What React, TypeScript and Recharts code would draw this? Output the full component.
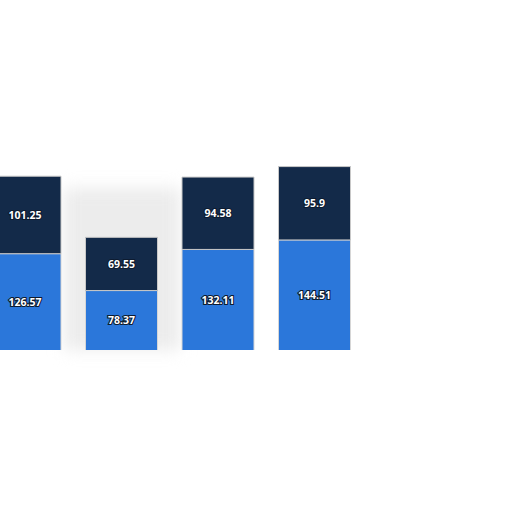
import React from 'react'
import { BarChart, Bar, XAxis, YAxis, LabelList } from 'recharts'

// categories and stacked series values
const categories = ['A', 'B', 'C', 'D']
const lowerValues = [126.57, 78.37, 132.11, 144.51]
const upperValues = [101.25, 69.55, 94.58, 95.9]

const data = categories.map((name, i) => ({
  name,
  lower: lowerValues[i],
  upper: upperValues[i],
}))

const labelStyle = {
  fill: '#ffffff',
  stroke: '#0d1b30',
  strokeWidth: 2.2,
  paintOrder: 'stroke' as const,
  fontSize: 10.5,
  fontWeight: 700,
  fontFamily: 'Open Sans, sans-serif',
}

export default function App() {
  return (
    <div style={{ position: 'absolute', left: 0, top: 0, width: 512, height: 512, overflow: 'hidden', background: '#fff' }}>
      {/* soft gray haze behind the second bar */}
      <div
        style={{
          position: 'absolute',
          left: 64,
          top: 188,
          width: 116,
          height: 162,
          background: '#ececec',
          filter: 'blur(8px)',
        }}
      />
      <div style={{ position: 'absolute', left: -22.75, top: 120.5 }}>
        <BarChart
          width={386}
          height={229.5}
          data={data}
          margin={{ top: 0, right: 0, bottom: 0, left: 0 }}
          barSize={72}
        >
          <XAxis dataKey="name" hide />
          <YAxis hide domain={[0, 300]} />
          <Bar dataKey="lower" stackId="s" fill="#2b77da" stroke="#d6d6d6" strokeWidth={1} isAnimationActive={false}>
            <LabelList dataKey="lower" position="center" style={labelStyle} />
          </Bar>
          <Bar dataKey="upper" stackId="s" fill="#132a49" stroke="#c8c8c8" strokeWidth={1} isAnimationActive={false}>
            <LabelList dataKey="upper" position="center" style={labelStyle} />
          </Bar>
        </BarChart>
      </div>
    </div>
  )
}
